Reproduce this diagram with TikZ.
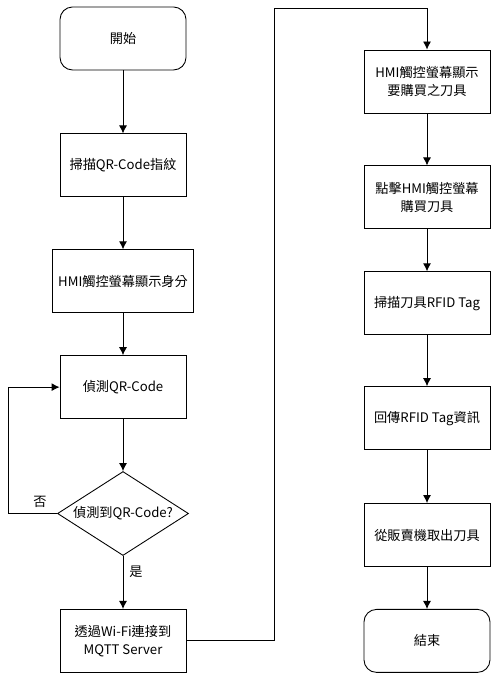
\documentclass[tikz,border=0pt]{standalone}
\usepackage{fontspec}
\setmainfont{Noto Sans CJK TC}
\usetikzlibrary{shapes.geometric, arrows.meta, positioning}

\begin{document}
\begin{tikzpicture}[
    box/.style={draw, line width=0.5pt, minimum width=2.52cm, minimum height=1.26cm,
      align=center, font=\fontsize{7.5}{10}\selectfont},
    term/.style={box, rounded corners=0.25cm},
    decide/.style={draw, diamond, line width=0.5pt, aspect=1.56, inner sep=0pt,
      minimum width=2.62cm, minimum height=1.68cm, font=\fontsize{7.5}{10}\selectfont},
    flow/.style={-{Latex[length=1.6mm,width=1.6mm]}, line width=0.5pt},
    lbl/.style={font=\fontsize{7.5}{10}\selectfont}
  ]
  \useasboundingbox (0,0) rectangle (10,-13.58);

  % left column
  \node[term] (start) at (2.46,-0.77) {開始};
  \node[box] [below=1.26cm of start] (scan) {掃描QR-Code指紋};
  \node[box] [below=1.04cm of scan] (show) {HMI觸控螢幕顯示身分};
  \node[box] [below=0.84cm of show] (detect) {偵測QR-Code};
  \node[decide] [below=1.04cm of detect] (found) {偵測到QR-Code?};
  \node[box] [below=1.06cm of found] (mqtt) {透過Wi-Fi連接到\\MQTT Server};

  % right column
  \node[box] (buy) at (8.54,-1.63) {HMI觸控螢幕顯示\\要購買之刀具};
  \node[box] [below=1.04cm of buy] (click) {點擊HMI觸控螢幕\\購買刀具};
  \node[box] [below=0.84cm of click] (rfid) {掃描刀具RFID Tag};
  \node[box] [below=1.02cm of rfid] (send) {回傳RFID Tag資訊};
  \node[box] [below=1.06cm of send] (take) {從販賣機取出刀具};
  \node[term] [below=0.84cm of take] (stop) {結束};

  \coordinate (loopx) at (0.16,0);
  \coordinate (top) at (5.48,-0.16);

  \draw[flow] (start) -- (scan);
  \draw[flow] (scan) -- (show);
  \draw[flow] (show) -- (detect);
  \draw[flow] (detect) -- (found);
  \draw[flow] (found) -- node[lbl, right, pos=0.3] {是} (mqtt);
  \draw[flow] (found.west) -- node[lbl, above, pos=0.35] {否} (found.west -| loopx)
    |- (detect.west);
  \draw[flow] (mqtt.east) -| (top) -| (buy.north);

  \draw[flow] (buy) -- (click);
  \draw[flow] (click) -- (rfid);
  \draw[flow] (rfid) -- (send);
  \draw[flow] (send) -- (take);
  \draw[flow] (take) -- (stop);
\end{tikzpicture}
\end{document}
